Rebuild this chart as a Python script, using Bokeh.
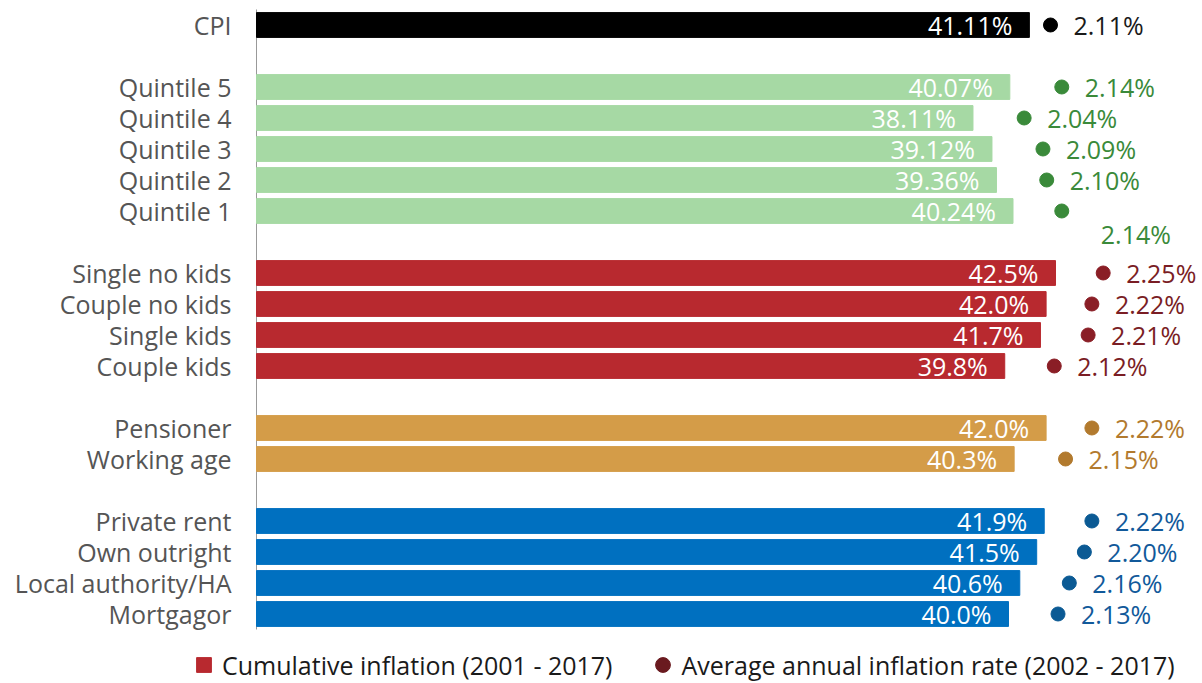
from bokeh.plotting import figure
from bokeh.models import Range1d, Legend, LegendItem, ColumnDataSource
from bokeh.core.properties import value
from bokeh.embed import file_html
from bokeh.resources import INLINE

# ---- data ----
categories = ["CPI",
              "Quintile 5", "Quintile 4", "Quintile 3", "Quintile 2", "Quintile 1",
              "Single no kids", "Couple no kids", "Single kids", "Couple kids",
              "Pensioner", "Working age",
              "Private rent", "Own outright", "Local authority/HA", "Mortgagor"]
groups = ["cpi",
          "quintile", "quintile", "quintile", "quintile", "quintile",
          "household", "household", "household", "household",
          "age", "age",
          "tenure", "tenure", "tenure", "tenure"]
cumulative = [41.11,
              40.07, 38.11, 39.12, 39.36, 40.24,
              42.5, 42.0, 41.7, 39.8,
              42.0, 40.3,
              41.9, 41.5, 40.6, 40.0]
cumulative_labels = ["41.11%",
                     "40.07%", "38.11%", "39.12%", "39.36%", "40.24%",
                     "42.5%", "42.0%", "41.7%", "39.8%",
                     "42.0%", "40.3%",
                     "41.9%", "41.5%", "40.6%", "40.0%"]
annual = [2.11,
          2.14, 2.04, 2.09, 2.10, 2.14,
          2.25, 2.22, 2.21, 2.12,
          2.22, 2.15,
          2.22, 2.20, 2.16, 2.13]
annual_labels = ["2.11%",
                 "2.14%", "2.04%", "2.09%", "2.10%", "2.14%",
                 "2.25%", "2.22%", "2.21%", "2.12%",
                 "2.22%", "2.15%",
                 "2.22%", "2.20%", "2.16%", "2.13%"]
legend_labels = ["Cumulative inflation (2001 - 2017)",
                 "Average annual inflation rate (2002 - 2017)"]

# ---- styling ----
bar_colors = {"cpi": "#000000", "quintile": "#A6D9A4", "household": "#B8292F",
              "age": "#D49C48", "tenure": "#0070C0"}
dot_colors = {"cpi": "#000000", "quintile": "#3A8A3A", "household": "#8A1E26",
              "age": "#B27A2E", "tenure": "#0B5A94"}
label_colors = {"cpi": "#1a1a1a", "quintile": "#3A8A3A", "household": "#7A1D24",
                "age": "#B27A2E", "tenure": "#11599A"}
FONT = "Open Sans"
FS = "25px"

# slot positions with a blank slot between groups
slots = []
s = 0
for i, g in enumerate(groups):
    if i > 0 and g != groups[i - 1]:
        s += 1
    slots.append(s)
    s += 1

src = ColumnDataSource(dict(
    y=slots, cat=categories, cum=cumulative, cum_lab=cumulative_labels, ann=annual,
    bar_c=[bar_colors[g] for g in groups], dot_c=[dot_colors[g] for g in groups]))

q1 = categories.index("Quintile 1")
main_idx = [i for i in range(len(categories)) if i != q1]
src_main = ColumnDataSource(dict(
    y=[slots[i] for i in main_idx], ann=[annual[i] for i in main_idx],
    ann_lab=[annual_labels[i] for i in main_idx],
    lab_c=[label_colors[groups[i]] for i in main_idx]))
src_q1 = ColumnDataSource(dict(y=[slots[q1]], ann=[annual[q1]], ann_lab=[annual_labels[q1]],
                               lab_c=[label_colors[groups[q1]]]))

# frame covers the whole canvas; category axis drawn at x = 0
p = figure(width=1202, height=683, output_backend="svg", toolbar_location=None,
           x_range=Range1d(-13.617, 50.319), y_range=Range1d(21.242, -0.7903),
           min_border=0)
p.extra_x_ranges = {"rate": Range1d(-0.68031, 2.51395)}
p.axis.visible = False
p.grid.visible = False
p.outline_line_color = None

# axis line and category labels
p.segment(x0=0, y0=min(slots) - 0.5, x1=0, y1=max(slots) + 0.5, line_color="#999999", line_width=1)
p.text(x=0, y="y", text="cat", source=src, text_align="right", text_baseline="middle",
       x_offset=-25, text_color="#555555", text_font=value(FONT), text_font_size=FS)

p.hbar(y="y", left=0, right="cum", height=0.8, color="bar_c", source=src)
p.text(x="cum", y="y", text="cum_lab", source=src, text_align="right", text_baseline="middle",
       x_offset=-17, text_color="white", text_font=value(FONT), text_font_size=FS)
p.scatter(x="ann", y="y", size=14, color="dot_c", source=src, x_range_name="rate")
p.text(x="ann", y="y", text="ann_lab", source=src_main, x_range_name="rate",
       text_align="left", text_baseline="middle", x_offset=23,
       text_color="lab_c", text_font=value(FONT), text_font_size=FS)
p.text(x="ann", y="y", text="ann_lab", source=src_q1, x_range_name="rate",
       text_align="left", text_baseline="middle", x_offset=39, y_offset=23,
       text_color="lab_c", text_font=value(FONT), text_font_size=FS)

# legend (proxy renderers with a single undrawn NaN point)
nan = float("nan")
r1 = p.scatter(x=[nan], y=[nan], marker="square", size=15, color="#B8292F")
r2 = p.scatter(x=[nan], y=[nan], marker="circle", size=14, color="#6A1A1F")
legend = Legend(items=[LegendItem(label=legend_labels[0], renderers=[r1]),
                       LegendItem(label=legend_labels[1], renderers=[r2])],
                orientation="horizontal", location=(185, 0), border_line_color=None,
                background_fill_alpha=0, label_text_font=FONT, label_text_font_size=FS,
                label_text_color="#1a1a1a", glyph_width=37, glyph_height=37,
                label_standoff=-6, spacing=32, padding=0, margin=0)
p.add_layout(legend, "center")

open("out.html", "w").write(file_html(p, INLINE))
